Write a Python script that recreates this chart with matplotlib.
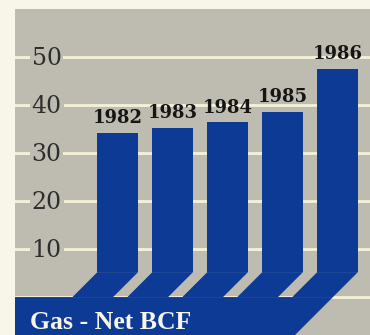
import numpy as np
import matplotlib.pyplot as plt
from matplotlib.patches import Polygon

# Net gas volumes (BCF) by year
years = ["1982", "1983", "1984", "1985", "1986"]
net_bcf = [34.2, 35.3, 36.4, 38.6, 47.6]
grid_values = [0, 10, 20, 30, 40, 50]
label_values = [10, 20, 30, 40, 50]
title = "Gas - Net BCF"

cream = "#f8f6e9"
panel = "#bebbb1"
blue = "#0d3a95"
line = "#f6f1da"

fig = plt.figure(figsize=(3.7, 3.35), dpi=100, facecolor=cream)
ax = fig.add_axes([15 / 370, 0, 355 / 370, 326 / 335])
ax.set_facecolor(panel)
for s in ax.spines.values():
    s.set_visible(False)
ax.set_xticks([])
ax.set_yticks([])

x = np.arange(len(years))
width = 0.74
ymin, ymax = -7.9, 60
ax.set_xlim(-1.87, 4.59)
ax.set_ylim(ymin, ymax)

# pixel scale, used to keep the bends at 45 degrees
px_x = 355 / (4.59 + 1.87)
px_y = 326 / (ymax - ymin)
k = px_y / px_x
bend = 5.2  # height where the bars start to bend

for v in grid_values:
    ax.axhline(v, color=line, lw=2, zorder=1)

# value labels sit on the gridlines and cut them
for v in label_values:
    ax.annotate(str(v), xy=(0.089, v), xycoords=ax.get_yaxis_transform(),
                xytext=(0, -5.6), textcoords="offset points",
                ha="center", va="baseline", fontsize=17, family="DejaVu Serif",
                color="#2e2e2e", zorder=2,
                bbox=dict(boxstyle="square,pad=0.08", fc=panel, ec="none"))

# vertical part of each bar
ax.bar(x, np.array(net_bcf) - bend, width=width, bottom=bend, color=blue,
       lw=0, zorder=3)

# bent foot of each bar, running down-left into the band
s0 = bend * k
for xi in x:
    l, r = xi - width / 2, xi + width / 2
    foot = [(l, bend), (r, bend), (r - s0, 0), (l - s0, 0)]
    ax.add_patch(Polygon(foot, closed=True, fc=blue, ec="none", zorder=3))

# band along the bottom, its right edge follows the last bar
r_last = x[-1] + width / 2
band = [(-1.87, ymin), (-1.87, 0), (r_last - s0, 0),
        (r_last - (bend - ymin) * k, ymin)]
ax.add_patch(Polygon(band, closed=True, fc=blue, ec="none", zorder=3))

for xi, yr, v in zip(x, years, net_bcf):
    ax.annotate(yr, xy=(xi, v), xytext=(0, 7), textcoords="offset points",
                ha="center", va="baseline", fontsize=13, fontweight="bold",
                family="DejaVu Serif", color="#151515", zorder=4)

ax.text(0.042, -6.7, title, transform=ax.get_yaxis_transform(),
        ha="left", va="baseline", fontsize=18.5, fontweight="bold",
        family="Liberation Serif", color="#f8f6ea", zorder=5)

fig.savefig("out.png", dpi=100, facecolor=cream)
